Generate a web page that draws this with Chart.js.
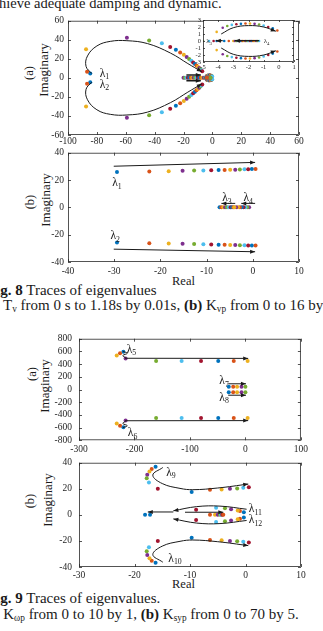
<!DOCTYPE html>
<html><head><meta charset="utf-8">
<script src="https://cdn.jsdelivr.net/npm/chart.js@4.4.1/dist/chart.umd.min.js"></script>
<style>
html,body{margin:0;padding:0;background:#fff;width:323px;height:631px;overflow:hidden;position:relative;font-family:"Liberation Serif","Times New Roman",serif;color:#1a1a1a}
canvas{position:absolute}
.t{position:absolute;white-space:nowrap;line-height:15px;height:15px}
.t sub{font-size:0.62em;vertical-align:baseline;position:relative;top:0.25em}
.rot{position:absolute;white-space:nowrap;line-height:1;transform:translate(-50%,-50%) rotate(-90deg)}
</style></head><body>
<div class="t" style="left:-1px;top:-4px;font-size:14.5px">hieve adequate damping and dynamic.</div>

<div class="rot" style="left:29px;top:73px;font-size:12.5px">(a)</div>
<div class="rot" style="left:43px;top:70px;font-size:13px">Imaginary</div>
<div class="rot" style="left:30px;top:202px;font-size:12.5px">(b)</div>
<div class="rot" style="left:45px;top:200px;font-size:13px">Imaginary</div>
<div class="t" style="left:172px;top:274px;font-size:12.5px">Real</div>

<div class="t" style="left:-13px;top:283px;font-size:15px"><b>Fig. 8</b> Traces of eigenvalues</div>
<div class="t" style="left:-18px;top:298px;font-size:15px"><b>(a)</b> T<sub>v</sub> from 0 s to 1.18s by 0.01s, <b>(b)</b> K<sub>vp</sub> from 0 to 16 by 1</div>

<div class="rot" style="left:32px;top:374px;font-size:12.5px">(a)</div>
<div class="rot" style="left:44px;top:386px;font-size:13px">Imaginary</div>
<div class="rot" style="left:30px;top:501px;font-size:12.5px">(b)</div>
<div class="rot" style="left:47px;top:500px;font-size:13px">Imaginary</div>
<div class="t" style="left:172px;top:577px;font-size:12.5px">Real</div>

<div class="t" style="left:-13px;top:591px;font-size:15px"><b>Fig. 9</b> Traces of eigenvalues.</div>
<div class="t" style="left:-18px;top:607px;font-size:15px"><b>(a)</b> K<sub>ωp</sub> from 0 to 10 by 1, <b>(b)</b> K<sub>syp</sub> from 0 to 70 by 5.</div>

<script>
// ---------------- DATA ----------------
const PAL = ['#0072BD','#D95319','#EDB120','#7E2F8E','#77AC30','#4DBEEE','#A2142F'];

// Fig 8(a) ticks
const f8aXTicks = [-100,-80,-60,-40,-20,0,20,40,60];
const f8aYTicks = [-60,-40,-20,0,20,40,60];
// Fig 8(a) lambda1 / lambda2 markers
const f8aL1Re = [-84.6,-86.8,-87.5,-59.2,-43.8,-35.0,-29.2,-25.3,-22.3,-19.8,-17.8,-16.1,-14.6,-13.3,-12.1,-11.0,-10.0,-9.1,-8.3,-7.6,-7.0];
const f8aL1Im = [4.6,6.3,30.0,42.0,39.3,36.2,32.5,29.4,26.7,24.2,22.0,19.9,17.9,16.1,14.5,13.0,11.6,10.3,9.1,8.0,7.0];
const f8aL2Re = [-84.6,-86.8,-87.5,-59.2,-43.8,-35.0,-29.2,-25.3,-22.3,-19.8,-17.8,-16.1,-14.6,-13.3,-12.1,-11.0,-10.0,-9.1,-8.3,-7.6,-7.0];
const f8aL2Im = [-4.6,-6.3,-30.0,-42.0,-39.3,-36.2,-32.5,-29.4,-26.7,-24.2,-22.0,-19.9,-17.9,-16.1,-14.5,-13.0,-11.6,-10.3,-9.1,-8.0,-7.0];
// trajectory arrows (a)
const f8aC1Re = [-83.6,-87.5,-86.5,-80.0,-70.7,-59.2,-45.0,-29.0,-17.0,-7.3];
const f8aC1Im = [4.6,12.0,23.0,33.5,38.3,39.0,36.0,26.0,15.0,6.3];
const f8aC2Re = [-83.6,-87.5,-86.5,-80.0,-70.7,-59.2,-45.0,-29.0,-17.0,-7.3];
const f8aC2Im = [-4.6,-12.0,-23.0,-33.5,-38.3,-39.0,-36.0,-26.0,-15.0,-6.3];
// near-origin modes (shown in main plot and in the zoomed inset)
const f8aL3Re = [-20,-19,-18,-17,-16,-15,-14,-13,-12,-11,-10,-9,-8,-7,-6,-5,-4.6,-4.3,-4.1,-3.9];
const f8aL3Im = [0,0,0,0,0,0,0,0,0,0,0,0,0,0,0,0,0,0,0,0];
const f8aL4Re = [-3.6,-3.3,-3.0,-2.9,-2.8,-2.7,-2.6,-2.5,-2.4,-2.3,-2.2,-2.1,-2.0,-1.9,-1.8,-1.7,-1.6,-1.5,-1.4,-1.3];
const f8aL4Im = [0,0,0,0,0,0,0,0,0,0,0,0,0,0,0,0,0,0,0,0];
const f8aT1Re = [-4.1,-3.7,-3.4,-3.1,-2.8,-2.5,-2.2,-1.9,-1.6,-1.3,-1.0,-0.7,-0.4,-0.1];
const f8aT1Im = [1.3,1.9,2.15,2.3,2.4,2.45,2.5,2.5,2.45,2.35,2.2,2.0,1.8,1.5];
const f8aT2Re = [-4.1,-3.7,-3.4,-3.1,-2.8,-2.5,-2.2,-1.9,-1.6,-1.3,-1.0,-0.7,-0.4,-0.1];
const f8aT2Im = [-1.3,-1.9,-2.15,-2.3,-2.4,-2.45,-2.5,-2.5,-2.45,-2.35,-2.2,-2.0,-1.8,-1.5];
// inset ticks
const insXTicks = [-5,-4,-3,-2,-1,0,1];
const insYTicks = [-3,-2,-1,0,1,2,3];

// Fig 8(b)
const f8bXTicks = [-40,-30,-20,-10,0,10];
const f8bYTicks = [-40,-20,0,20,40];
const f8bL1Re = [-29.4,-22.4,-18.2,-15.2,-12.7,-10.7,-9.0,-7.4,-6.1,-4.9,-3.8,-2.8,-1.8,-1.0,-0.2,0.6];
const f8bL1Im = [25.8,26.2,26.5,26.7,26.9,27.0,27.2,27.3,27.4,27.5,27.6,27.7,27.8,27.9,28.0,28.0];
const f8bL2Re = [-29.4,-22.4,-18.2,-15.2,-12.7,-10.7,-9.0,-7.4,-6.1,-4.9,-3.8,-2.8,-1.8,-1.0,-0.2,0.6];
const f8bL2Im = [-25.8,-26.2,-26.5,-26.7,-26.9,-27.0,-27.2,-27.3,-27.4,-27.5,-27.6,-27.7,-27.8,-27.9,-28.0,-28.0];
const f8bL3Re = [-7.2,-6.8,-6.4,-6.0,-5.6,-5.2,-4.8,-4.5,-4.2,-4.0];
const f8bL3Im = [0,0,0,0,0,0,0,0,0,0];
const f8bL4Re = [-0.8,-1.2,-1.6,-2.0,-2.4,-2.8,-3.2,-3.6];
const f8bL4Im = [0,0,0,0,0,0,0,0];

// Fig 9(a)
const f9aXTicks = [-300,-200,-100,0,100];
const f9aYTicks = [-800,-600,-400,-200,0,200,400,600,800];
const f9aL5Re = [-220,-226,-232,-216,-161,-115,-80,-49,-21,4];
const f9aL5Im = [595,570,536,488,450,450,450,450,450,450];
const f9aL6Re = [-220,-226,-232,-216,-161,-115,-80,-49,-21,4];
const f9aL6Im = [-595,-570,-536,-488,-450,-450,-450,-450,-450,-450];
const f9aL7Re = [-30,-22,-15,-7,0];
const f9aL7Im = [45,45,45,45,45];
const f9aL8Re = [-30,-22,-15,-7,0];
const f9aL8Im = [-45,-45,-45,-45,-45];

// Fig 9(b)
const f9bXTicks = [-30,-20,-10,0,10];
const f9bYTicks = [-40,-20,0,20,40];
const f9bL9Re = [-16.2,-16.9,-17.3,-17.7,-17.8,-17.4,-15.8,-9.7,-6.4,-4.3,-2.8,-1.5,-0.4,0.6];
const f9bL9Im = [36.8,35.2,33.2,30.8,28.0,24.8,20.0,17.6,19.3,19.5,20.0,20.2,20.7,21.2];
const f9bL10Re = [-16.2,-16.9,-17.3,-17.7,-17.8,-17.4,-15.8,-9.7,-6.4,-4.3,-2.8,-1.5,-0.4,0.6];
const f9bL10Im = [-36.8,-35.2,-33.2,-30.8,-28.0,-24.8,-20.0,-17.6,-19.3,-19.5,-20.0,-20.2,-20.7,-21.2];
const f9bL11Re = [-0.3,-1.0,-1.4,-2.6,-3.7,-5.3,-8.9];
const f9bL11Im = [2.0,3.0,3.3,4.3,5.0,5.5,3.9];
const f9bL12Re = [-0.3,-1.0,-1.4,-2.6,-3.7,-5.3,-8.9];
const f9bL12Im = [-2.0,-3.0,-3.3,-4.3,-5.0,-5.5,-3.9];
const f9bRealRe = [-17.2,-6.4,-5.5,-5.0,-4.6,-4.4,-4.2,-18.1,-4.0];
const f9bRealIm = [0,0,0,0,0,0,0,0,0];

// ---------------- helpers ----------------
const FONT = '"Liberation Serif","Times New Roman",serif';
const INK = '#1a1a1a';
const pts = (re, im) => re.map((r, i) => ({x: r, y: im[i]}));
const cyc = (n, s) => Array.from({length: n}, (_, i) => PAL[(i + (s || 0)) % PAL.length]);
function dots(re, im, r, start) {
  return {data: pts(re, im), showLine: false, pointBackgroundColor: cyc(re.length, start),
          pointBorderWidth: 0, pointRadius: r || 2, pointStyle: 'circle'};
}
function curve(re, im, arrow, tension, lw) {
  return {data: pts(re, im), showLine: true, borderColor: INK, borderWidth: lw || 1,
          pointRadius: 0, tension: tension === undefined ? 0.4 : tension, fill: false, arrow: !!arrow};
}

const boxPlugin = {
  id: 'mbox',
  beforeDatasetsDraw(chart, args, opts) {
    if (!opts.fill) return;
    const a = chart.chartArea, c = chart.ctx;
    c.save(); c.fillStyle = '#fff'; c.fillRect(a.left, a.top, a.right - a.left, a.bottom - a.top); c.restore();
  },
  afterDatasetsDraw(chart, args, opts) {
    const a = chart.chartArea, c = chart.ctx, x = chart.scales.x, y = chart.scales.y;
    const tl = opts.tick || 3;
    c.save(); c.strokeStyle = '#2a2a2a'; c.lineWidth = 0.8;
    c.strokeRect(a.left + 0.5, a.top + 0.5, a.right - a.left - 1, a.bottom - a.top - 1);
    c.beginPath();
    x.ticks.forEach(t => { const p = Math.round(x.getPixelForValue(t.value)) + 0.5;
      c.moveTo(p, a.bottom); c.lineTo(p, a.bottom - tl); c.moveTo(p, a.top); c.lineTo(p, a.top + tl); });
    y.ticks.forEach(t => { const p = Math.round(y.getPixelForValue(t.value)) + 0.5;
      c.moveTo(a.left, p); c.lineTo(a.left + tl, p); c.moveTo(a.right, p); c.lineTo(a.right - tl, p); });
    c.stroke(); c.restore();
  }
};
const arrowPlugin = {
  id: 'arr',
  afterDatasetsDraw(chart) {
    const c = chart.ctx;
    chart.data.datasets.forEach((ds, i) => {
      if (!ds.arrow) return;
      const p = chart.getDatasetMeta(i).data; const e = p[p.length - 1];
      let sx = p[p.length - 2].x, sy = p[p.length - 2].y;
      if (e.cp1x !== undefined && Math.hypot(e.cp1x - e.x, e.cp1y - e.y) > 1) { sx = e.cp1x; sy = e.cp1y; }
      const an = Math.atan2(e.y - sy, e.x - sx), L = ds.arrowLen || 5, w = ds.arrowW || 2;
      c.save(); c.fillStyle = INK; c.beginPath(); c.moveTo(e.x, e.y);
      c.lineTo(e.x - L * Math.cos(an) + w * Math.sin(an), e.y - L * Math.sin(an) - w * Math.cos(an));
      c.lineTo(e.x - L * Math.cos(an) - w * Math.sin(an), e.y - L * Math.sin(an) + w * Math.cos(an));
      c.closePath(); c.fill(); c.restore();
    });
  }
};
const lamPlugin = {
  id: 'lam',
  afterDatasetsDraw(chart, args, opts) {
    const c = chart.ctx, sz = opts.size || 11, items = opts.items || [];
    items.forEach(it => {
      const px = chart.scales.x.getPixelForValue(it.x), py = chart.scales.y.getPixelForValue(it.y);
      c.save(); c.fillStyle = INK; c.textBaseline = 'alphabetic'; c.textAlign = 'left';
      const big = sz + 'px ' + FONT, small = (sz * 0.68).toFixed(1) + 'px ' + FONT;
      c.font = big; const w1 = c.measureText('λ').width;
      c.font = small; const w2 = c.measureText(it.n).width;
      const x0 = it.align === 'center' ? px - (w1 + w2) / 2 : px;
      const base = py + sz * 0.35;
      c.font = big; c.fillText('λ', x0, base);
      c.font = small; c.fillText(it.n, x0 + w1, base + sz * 0.22);
      c.restore();
    });
  }
};

function mk(box, o, datasets, labels) {
  const cv = document.createElement('canvas'); document.body.appendChild(cv);
  const padT = 6, padR = 10;
  const W = box.R - box.L + o.yW + padR, H = box.B - box.T + o.xH + padT;
  cv.width = W; cv.height = H;
  Object.assign(cv.style, {left: (box.L - o.yW) + 'px', top: (box.T - padT) + 'px', width: W + 'px', height: H + 'px', zIndex: o.z || 1});
  const axis = (ticks, isX) => ({
    type: 'linear', min: ticks[0], max: ticks[ticks.length - 1],
    afterBuildTicks: s => { s.ticks = ticks.map(v => ({value: v})); },
    afterFit: s => { if (isX) s.height = o.xH; else s.width = o.yW; },
    grid: {display: false, drawTicks: false}, border: {display: false},
    ticks: {font: {family: FONT, size: o.fs}, color: '#262626', padding: isX ? o.xPad : o.yPad,
            maxRotation: 0, minRotation: 0, autoSkip: false, callback: v => String(v)}
  });
  return new Chart(cv, {
    type: 'scatter', data: {datasets},
    options: {
      responsive: false, animation: false, devicePixelRatio: 1, events: [],
      layout: {padding: {left: 0, top: padT, right: padR, bottom: 0}, autoPadding: false},
      plugins: {legend: {display: false}, tooltip: {enabled: false},
                lam: {items: labels, size: o.lam || 11.5}, mbox: {tick: o.tick || 3, fill: !!o.fill}},
      scales: {x: axis(o.xt, true), y: axis(o.yt, false)}
    },
    plugins: [boxPlugin, arrowPlugin, lamPlugin]
  });
}

// ---------------- charts ----------------
// Fig 8(a)
mk({L: 68, T: 17, R: 299, B: 135}, {yW: 68, xH: 12, xPad: 1, yPad: 4, fs: 9.5, xt: f8aXTicks, yt: f8aYTicks}, [
  curve(f8aC1Re, f8aC1Im, true), curve(f8aC2Re, f8aC2Im, true),
  curve([-18, -8], [3, 3], true, 0, 1.6), curve([-18, -8], [-3, -3], true, 0, 1.6),
  dots(f8aL1Re, f8aL1Im), dots(f8aL2Re, f8aL2Im),
  dots(f8aL3Re, f8aL3Im, 2, 3), dots(f8aL4Re, f8aL4Im, 2, 6),
  dots(f8aT1Re, f8aT1Im, 2, 6), dots(f8aT2Re, f8aT2Im, 2, 6)
], [{x: -78, y: 5.5, n: '1'}, {x: -78, y: -6, n: '2'}]);

// inset of Fig 8(a)
mk({L: 203, T: 20, R: 294, B: 62}, {yW: 12, xH: 8, xPad: 1, yPad: 2, fs: 6.5, tick: 2, fill: true, z: 3, lam: 7, xt: insXTicks, yt: insYTicks}, [
  curve([-3.8, -3.0, -2.0, -1.0, -0.2], [1.0, 1.9, 2.2, 2.0, 1.4], true),
  curve([-3.8, -3.0, -2.0, -1.0, -0.2], [-1.0, -1.9, -2.2, -2.0, -1.4], true),
  curve([-3.7, -4.15], [0.05, 0.05], true, 0, 1.2),
  curve([-1.3, -2.9], [0.05, 0.05], true, 0, 1.2),
  dots(f8aT1Re, f8aT1Im, 1.3, 2), dots(f8aT2Re, f8aT2Im, 1.3, 2),
  dots(f8aL3Re, f8aL3Im, 1.3, 3), dots(f8aL4Re, f8aL4Im, 1.3, 0)
], [{x: -4.6, y: 0, n: '3', align: 'center'}, {x: -1.0, y: 0, n: '4'}]);

// Fig 8(b)
mk({L: 68, T: 149, R: 299, B: 262}, {yW: 68, xH: 14, xPad: 4, yPad: 4, fs: 9.5, xt: f8bXTicks, yt: f8bYTicks}, [
  curve([-30.1, 0.5], [30.1, 32.9], true, 0), curve([-30.1, 0.5], [-30.6, -32.5], true, 0),
  curve([-3.8, -6.8], [2.9, 2.9], true, 0), curve([0.5, -2.5], [2.9, 2.9], true, 0),
  dots(f8bL1Re, f8bL1Im), dots(f8bL2Re, f8bL2Im),
  dots(f8bL3Re, f8bL3Im), dots(f8bL4Re, f8bL4Im, 2, 3)
], [{x: -29.4, y: 18.5, n: '1', align: 'center'}, {x: -29.8, y: -20.2, n: '2', align: 'center'},
    {x: -5.6, y: 7.5, n: '3', align: 'center'}, {x: -1.0, y: 7.5, n: '4', align: 'center'}]);

// Fig 9(a)
mk({L: 79, T: 332, R: 301, B: 441}, {yW: 79, xH: 12, xPad: 3, yPad: 7, fs: 9.5, xt: f9aXTicks, yt: f9aYTicks}, [
  curve([-217, 5], [492, 490], true, 0), curve([-217, 5], [-492, -490], true, 0),
  curve([-221, -213, -221, -216], [600, 570, 535, 500], false),
  curve([-221, -213, -221, -216], [-600, -570, -535, -500], false),
  curve([-31, 1], [90, 90], true, 0), curve([-31, 1], [-90, -90], true, 0),
  dots(f9aL5Re, f9aL5Im), dots(f9aL6Re, f9aL6Im),
  dots(f9aL7Re, f9aL7Im), dots(f9aL8Re, f9aL8Im)
], [{x: -214, y: 640, n: '5'}, {x: -212, y: -670, n: '6'}, {x: -47, y: 150, n: '7'}, {x: -47, y: -115, n: '8'}]);

// Fig 9(b)
mk({L: 79, T: 456, R: 301, B: 567}, {yW: 79, xH: 13, xPad: 3, yPad: 7, fs: 9.5, xt: f9bXTicks, yt: f9bYTicks}, [
  curve([-14.9, -16.7, -15.0, -11.8, -9.5, -5.0, 0.5], [36.3, 30.5, 24.0, 20.3, 19.3, 20.6, 23.6], true),
  curve([-14.9, -16.7, -15.0, -11.8, -9.5, -5.0, 0.5], [-36.3, -30.5, -24.0, -20.3, -19.3, -20.6, -23.6], true),
  curve([0.2, -4.6, -8.8, -13.0], [4.3, 6.7, 6.3, 3.1], true),
  curve([0.2, -4.6, -8.8, -13.0], [-4.3, -6.7, -6.3, -3.1], true),
  curve([-13.0, -17.6], [2.2, 2.2], true, 0), curve([-10.9, -4.0], [2.0, 2.0], true, 0),
  dots(f9bL9Re, f9bL9Im), dots(f9bL10Re, f9bL10Im),
  dots(f9bL11Re, f9bL11Im), dots(f9bL12Re, f9bL12Im), dots(f9bRealRe, f9bRealIm)
], [{x: -14.3, y: 33, n: '9'}, {x: -13.9, y: -33, n: '10'}, {x: 0.6, y: 5, n: '11'}, {x: 0.6, y: -3.5, n: '12'}]);
</script>
</body></html>
